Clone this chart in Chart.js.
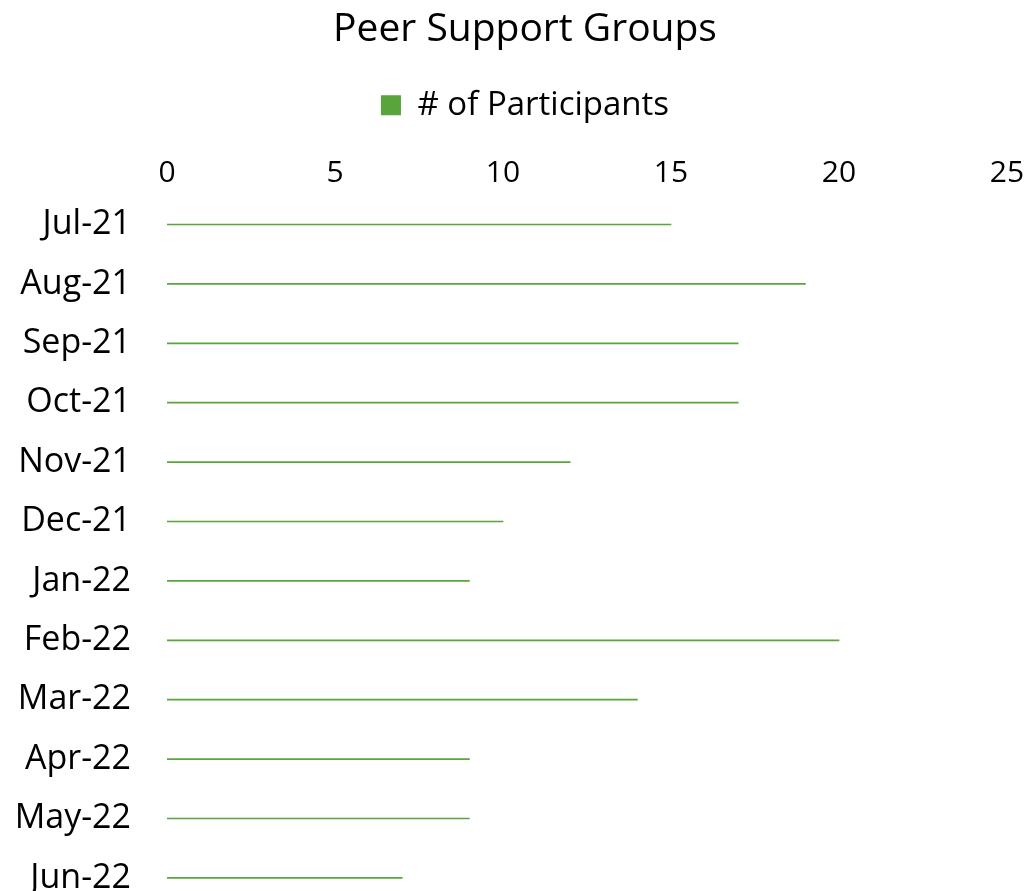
<!DOCTYPE html>
<html>
<head>
<meta charset="utf-8">
<script src="https://cdn.jsdelivr.net/npm/chart.js@4.4.1/dist/chart.umd.min.js"></script>
<style>
  html, body { margin: 0; padding: 0; background: #ffffff; overflow: hidden; }
  #wrap { width: 1030px; height: 964px; }
</style>
</head>
<body>
<div id="wrap"><canvas id="chart" width="1030" height="964"></canvas></div>
<script>
// Monthly peer support group attendance
const months = ["Jul-21", "Aug-21", "Sep-21", "Oct-21", "Nov-21", "Dec-21",
                "Jan-22", "Feb-22", "Mar-22", "Apr-22", "May-22", "Jun-22"];
const participants = [15, 19, 17, 17, 12, 10, 9, 20, 14, 9, 9, 7];
const seriesName = "# of Participants";
const chartTitle = "Peer Support Groups";
const axisMin = 0, axisMax = 25, axisStep = 5;

const FONT = "'Open Sans', 'Noto Sans', sans-serif";
const GREEN = "#5aa43c";

// Month labels are allowed to run into the left padding instead of being clipped
const labelRoom = {
  id: "labelRoom",
  afterLayout(chart) {
    chart.scales.y.left = 0;
  }
};

new Chart(document.getElementById("chart"), {
  type: "bar",
  data: {
    labels: months,
    datasets: [{
      label: seriesName,
      data: participants,
      backgroundColor: GREEN,
      borderWidth: 0,
      barThickness: 1
    }]
  },
  plugins: [labelRoom],
  options: {
    indexAxis: "y",
    responsive: false,
    animation: false,
    layout: { padding: { left: 43, right: 23, top: 2, bottom: 0 } },
    plugins: {
      title: {
        display: true,
        text: chartTitle,
        color: "#000000",
        font: { family: FONT, size: 39, weight: "normal" },
        padding: { top: 4, bottom: 13 }
      },
      legend: {
        display: true,
        position: "top",
        labels: {
          color: "#000000",
          font: { family: FONT, size: 33 },
          boxWidth: 20,
          boxHeight: 20,
          padding: 23
        }
      },
      tooltip: { enabled: false }
    },
    scales: {
      x: {
        position: "top",
        min: axisMin,
        max: axisMax,
        grid: { display: false, drawTicks: false },
        border: { display: false },
        ticks: {
          stepSize: axisStep,
          color: "#000000",
          padding: 3,
          font: { family: FONT, size: 30 }
        },
        afterFit(scale) {
          scale.height += 21;
          scale.paddingLeft = 0;
          scale.paddingRight = 0;
        }
      },
      y: {
        grid: { display: false, drawTicks: false },
        border: { display: false },
        ticks: {
          color: "#000000",
          padding: 36,
          font: { family: FONT, size: 34 }
        },
        afterFit(scale) { scale.width = 124; }
      }
    }
  }
});
</script>
</body>
</html>
